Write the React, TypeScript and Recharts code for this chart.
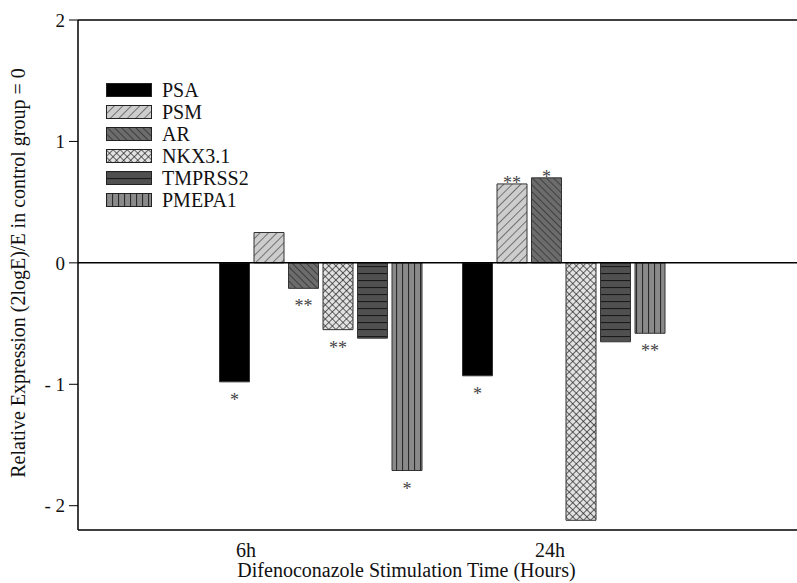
import { BarChart, Bar, XAxis, YAxis, ReferenceLine, LabelList } from "recharts";

const times = ["6h", "24h"];
const genes = ["PSA", "PSM", "AR", "NKX3.1", "TMPRSS2", "PMEPA1"];
const psa = [-0.98, -0.93];
const psm = [0.25, 0.65];
const ar = [-0.21, 0.7];
const nkx = [-0.55, -2.12];
const tmprss2 = [-0.62, -0.65];
const pmepa1 = [-1.71, -0.58];
const psaSig = ["*", "*"];
const psmSig = ["", "**"];
const arSig = ["**", "*"];
const nkxSig = ["**", ""];
const tmprss2Sig = ["", ""];
const pmepa1Sig = ["*", "**"];
const yTicks = [-2, -1, 0, 1, 2];

const values = [psa, psm, ar, nkx, tmprss2, pmepa1];
const sigs = [psaSig, psmSig, arSig, nkxSig, tmprss2Sig, pmepa1Sig];
const fills = ["#000", "url(#pPsm)", "url(#pAr)", "url(#pNkx)", "url(#pTm)", "url(#pPm)"];

const data = times.map((t, i) => {
  const row: Record<string, string | number> = { time: t };
  genes.forEach((g, k) => (row[g] = values[k][i]));
  return row;
});

const font = "'Liberation Serif', 'Times New Roman', serif";

function Patterns() {
  return (
    <svg width={0} height={0} style={{ position: "absolute" }}>
      <defs>
        <pattern id="pPsm" width="6" height="6" patternUnits="userSpaceOnUse" patternTransform="rotate(45)">
          <rect width="6" height="6" fill="#cdcdcd" />
          <line x1="0" y1="0" x2="0" y2="6" stroke="#333" strokeWidth="1.2" />
        </pattern>
        <pattern id="pAr" width="5" height="5" patternUnits="userSpaceOnUse" patternTransform="rotate(-45)">
          <rect width="5" height="5" fill="#6c6c6c" />
          <line x1="0" y1="0" x2="0" y2="5" stroke="#222" strokeWidth="1.2" />
        </pattern>
        <pattern id="pNkx" width="5" height="5" patternUnits="userSpaceOnUse" patternTransform="rotate(45)">
          <rect width="5" height="5" fill="#e2e2e2" />
          <line x1="0" y1="0" x2="0" y2="5" stroke="#1a1a1a" strokeWidth="1.3" />
          <line x1="0" y1="0" x2="5" y2="0" stroke="#1a1a1a" strokeWidth="1.3" />
        </pattern>
        <pattern id="pTm" width="6" height="7" patternUnits="userSpaceOnUse">
          <rect width="6" height="7" fill="#505050" />
          <line x1="0" y1="0.5" x2="6" y2="0.5" stroke="#1a1a1a" strokeWidth="1.2" />
        </pattern>
        <pattern id="pPm" width="6" height="6" patternUnits="userSpaceOnUse">
          <rect width="6" height="6" fill="#8a8a8a" />
          <line x1="0.5" y1="0" x2="0.5" y2="6" stroke="#2a2a2a" strokeWidth="1.2" />
        </pattern>
      </defs>
    </svg>
  );
}

function starLabel(sig: string[]) {
  return (props: any) => {
    const { x, y, width, height, index, value } = props;
    const s = sig[index];
    if (!s) return null;
    const top = Math.min(y, y + height);
    const bottom = Math.max(y, y + height);
    const ty = value < 0 ? bottom + 24 : top + 5;
    return (
      <text x={x + width / 2} y={ty} textAnchor="middle" fontSize={18} fill="#444" fontFamily={font}>
        {s}
      </text>
    );
  };
}

function LegendBox() {
  return (
    <div style={{ position: "absolute", left: 106, top: 79, fontFamily: font, fontSize: 20, color: "#111" }}>
      {genes.map((g, k) => (
        <div key={g} style={{ display: "flex", alignItems: "center", height: 22 }}>
          <svg width={46} height={14} style={{ marginRight: 10 }}>
            <rect x={0.5} y={0.5} width={45} height={13} fill={fills[k]} stroke="#222" strokeWidth={1} />
          </svg>
          <span>{g}</span>
        </div>
      ))}
    </div>
  );
}

function XTick(props: any) {
  const { x, y, payload } = props;
  return (
    <text x={x} y={y + 19} textAnchor="middle" fontSize={20} fill="#111" fontFamily={font}>
      {payload.value}
    </text>
  );
}

function XTitle(props: any) {
  const { viewBox } = props;
  return (
    <text x={viewBox.x + viewBox.width / 2 - 31} y={viewBox.y + 47} textAnchor="middle" fontSize={20} fill="#111" fontFamily={font}>
      Difenoconazole Stimulation Time (Hours)
    </text>
  );
}

export default function App() {
  return (
    <div style={{ position: "absolute", left: 0, top: 0, width: 797, height: 583, background: "#fff", overflow: "hidden" }}>
      <Patterns />
      <BarChart
        width={797}
        height={583}
        data={data}
        margin={{ top: 20, right: 0, bottom: 23, left: 0 }}
        barSize={30}
        barGap={4.5}
      >
        <XAxis xAxisId="bars" dataKey="time" hide height={0} padding={{ left: 121.5, right: 111.5 }} />
        <XAxis
          xAxisId="labels"
          dataKey="time"
          height={30}
          axisLine={{ stroke: "#000", strokeWidth: 1.5 }}
          tickLine={false}
          tick={<XTick />}
          padding={{ left: 16, right: 95 }}
          label={{ content: (p: any) => <XTitle {...p} /> }}
        />
        <YAxis
          type="number"
          domain={[-2.2, 2]}
          ticks={yTicks}
          allowDataOverflow
          width={78}
          axisLine={{ stroke: "#000", strokeWidth: 1.5 }}
          tickLine={{ stroke: "#000" }}
          tickSize={9}
          tickMargin={4}
          tick={{ fontSize: 19, fill: "#111", fontFamily: font }}
          tickFormatter={(v: number) => (v < 0 ? `- ${Math.abs(v)}` : `${v}`)}
          label={{ value: "Relative Expression (2logE)/E in control group = 0", angle: -90, position: "center", dx: -21, dy: -2, fontSize: 20, fill: "#111", fontFamily: font }}
        />
        <ReferenceLine xAxisId="bars" y={0} stroke="#000" strokeWidth={1.5} />
        <ReferenceLine xAxisId="bars" y={2} stroke="#000" strokeWidth={1.5} />
        {genes.map((g, k) => (
          <Bar key={g} xAxisId="bars" dataKey={g} fill={fills[k]} stroke="#333" strokeWidth={1} isAnimationActive={false}>
            <LabelList dataKey={g} content={starLabel(sigs[k])} />
          </Bar>
        ))}
      </BarChart>
      <LegendBox />
    </div>
  );
}
